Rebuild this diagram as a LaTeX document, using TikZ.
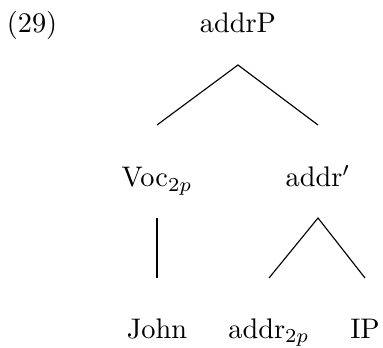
\documentclass[tikz,border=0pt]{standalone}
\usepackage{amsmath}
\usetikzlibrary{calc}

\tikzset{
  lbl/.style={anchor=base, inner sep=0pt},
  branch/.style={line width=0.4pt}
}

\begin{document}
\begin{tikzpicture}[x=0.353pt,y=-0.353pt]
  \useasboundingbox (0,0) rectangle (383,348);
  % labels
  \node[lbl] (ex)      at (32,33)   {(29)};
  \node[lbl] (addrP)   at (238,33)  {addrP};
  \node[lbl] (voc)     at (157,187) {Voc$_{2p}$};
  \node[lbl] (addrbar) at (318,187) {addr$'$};
  \node[lbl] (john)    at (157,338) {John};
  \node[lbl] (addrsub) at (269,338) {addr$_{2p}$};
  \node[lbl] (ip)      at (365,338) {IP};
  % branches
  \draw[branch] ($(voc.base)+(0,-62)$) -- ($(addrP.base)+(0,32)$) -- ($(addrbar.base)+(0,-62)$);
  \draw[branch] ($(voc.base)+(0,31)$) -- ($(john.base)+(0,-60)$);
  \draw[branch] ($(addrsub.base)+(0,-60)$) -- ($(addrbar.base)+(0,31)$) -- ($(ip.base)+(0,-60)$);
\end{tikzpicture}
\end{document}
